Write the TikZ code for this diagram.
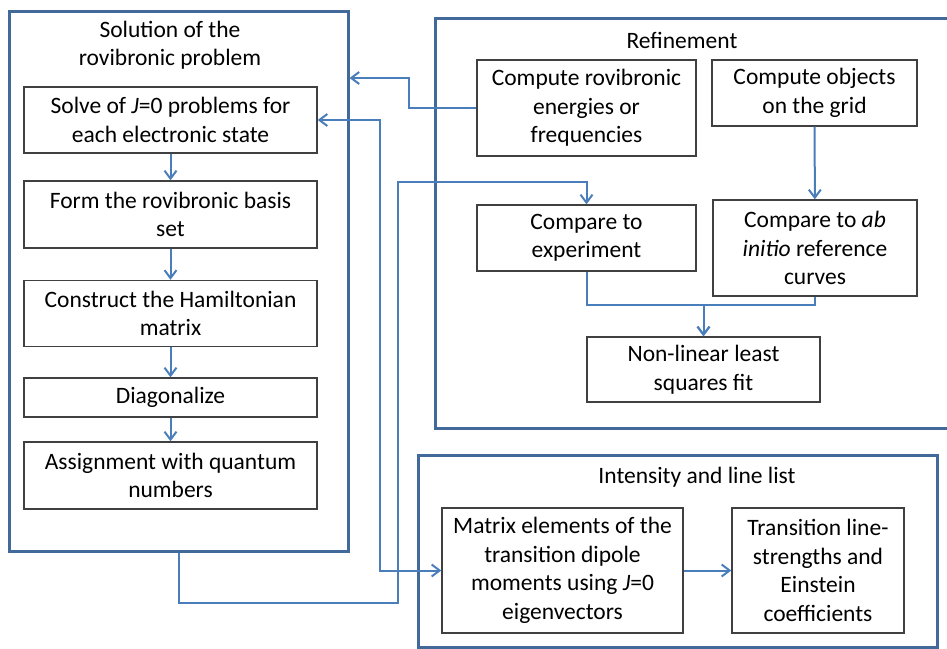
\documentclass[tikz,border=0pt]{standalone}
\usepackage{fontspec}
\setmainfont{Carlito}
\usetikzlibrary{positioning, arrows.meta}
\definecolor{groupblue}{HTML}{41699A}
\definecolor{linkblue}{HTML}{4A7EBB}

\begin{document}
\begin{tikzpicture}[x=1pt, y=-1pt, font=\fontsize{23.5}{28.5}\selectfont,
    >={Straight Barb[length=8pt, width=12pt]},
    group/.style={draw=groupblue, line width=3pt},
    stepbox/.style={draw=black!75, line width=1.4pt, align=center, inner sep=0pt},
    link/.style={draw=linkblue, line width=2pt, ->}]
  \useasboundingbox (0,0) rectangle (947,648);
  \clip (0,0) rectangle (947,648);
  % the three group frames
  \node[group, minimum width=339pt, minimum height=540pt] (sol) at (178.5,281) {};
  \node[group, minimum width=530pt, minimum height=410pt] (ref) at (700,223) {};
  \node[group, minimum width=519pt, minimum height=192pt] (int) at (677.5,551) {};
  \node[align=center] (soltitle) at (170,45) {Solution of the\\rovibronic problem};
  \node (reftitle) at (682,40) {Refinement};
  \node (inttitle) at (697,477) {Intensity and line list};
  % solution steps
  \node[stepbox, minimum width=293pt, minimum height=66pt] (solve) at (170.5,120) {Solve of \textit{J}=0 problems for\\each electronic state};
  \node[stepbox, minimum width=293pt, minimum height=67pt] (form) at (170.5,214.5) {Form the rovibronic basis\\set};
  \node[stepbox, minimum width=293pt, minimum height=66pt] (ham) at (170.5,313.5) {Construct the Hamiltonian\\matrix};
  \node[stepbox, minimum width=293pt, minimum height=39pt] (diag) at (170.5,397.5) {Diagonalize};
  \node[stepbox, minimum width=293pt, minimum height=67pt] (assign) at (170.5,475.5) {Assignment with quantum\\numbers};
  % refinement steps
  \node[stepbox, minimum width=219pt, minimum height=96pt] (energies) at (586.5,108) {Compute rovibronic\\energies or\\frequencies};
  \node[stepbox, minimum width=205pt, minimum height=66pt] (grid) at (814.5,93) {Compute objects\\on the grid};
  \node[stepbox, minimum width=219pt, minimum height=66pt] (exper) at (586.5,238) {Compare to\\experiment};
  \node[stepbox, minimum width=204pt, minimum height=96pt] (abinit) at (815,248) {Compare to \textit{ab}\\\textit{initio} reference\\curves};
  \node[stepbox, minimum width=233pt, minimum height=65pt] (fit) at (703.5,369.5) {Non-linear least\\squares fit};
  % intensity steps
  \node[stepbox, minimum width=241pt, minimum height=125pt] (matel) at (562.5,570.5) {Matrix elements of the\\transition dipole\\moments using \textit{J}=0\\eigenvectors};
  \node[stepbox, minimum width=172pt, minimum height=125pt] (trans) at (818,570.5) {Transition line-\\strengths and\\Einstein\\coefficients};
  % connectors
  \draw[link] (solve) -- (form);
  \draw[link] (form) -- (ham);
  \draw[link] (ham) -- (diag);
  \draw[link] (diag) -- (assign);
  \draw[link] (energies.west) -- ++(-67,0) |- (sol.east |- 0,78);
  \draw[link, <->] (solve.east) -- ++(62,0) |- (matel.west);
  \draw[link] (sol.south) -- ++(0,50) -| (398,182) -| (exper.north);
  \draw[link] (grid) -- (abinit);
  \draw[link] (exper.south) -- ++(0,33) -| (fit.north);
  \draw[link] (abinit.south) -- ++(0,8) -| (fit.north);
  \draw[link] (matel) -- (trans);
\end{tikzpicture}
\end{document}
